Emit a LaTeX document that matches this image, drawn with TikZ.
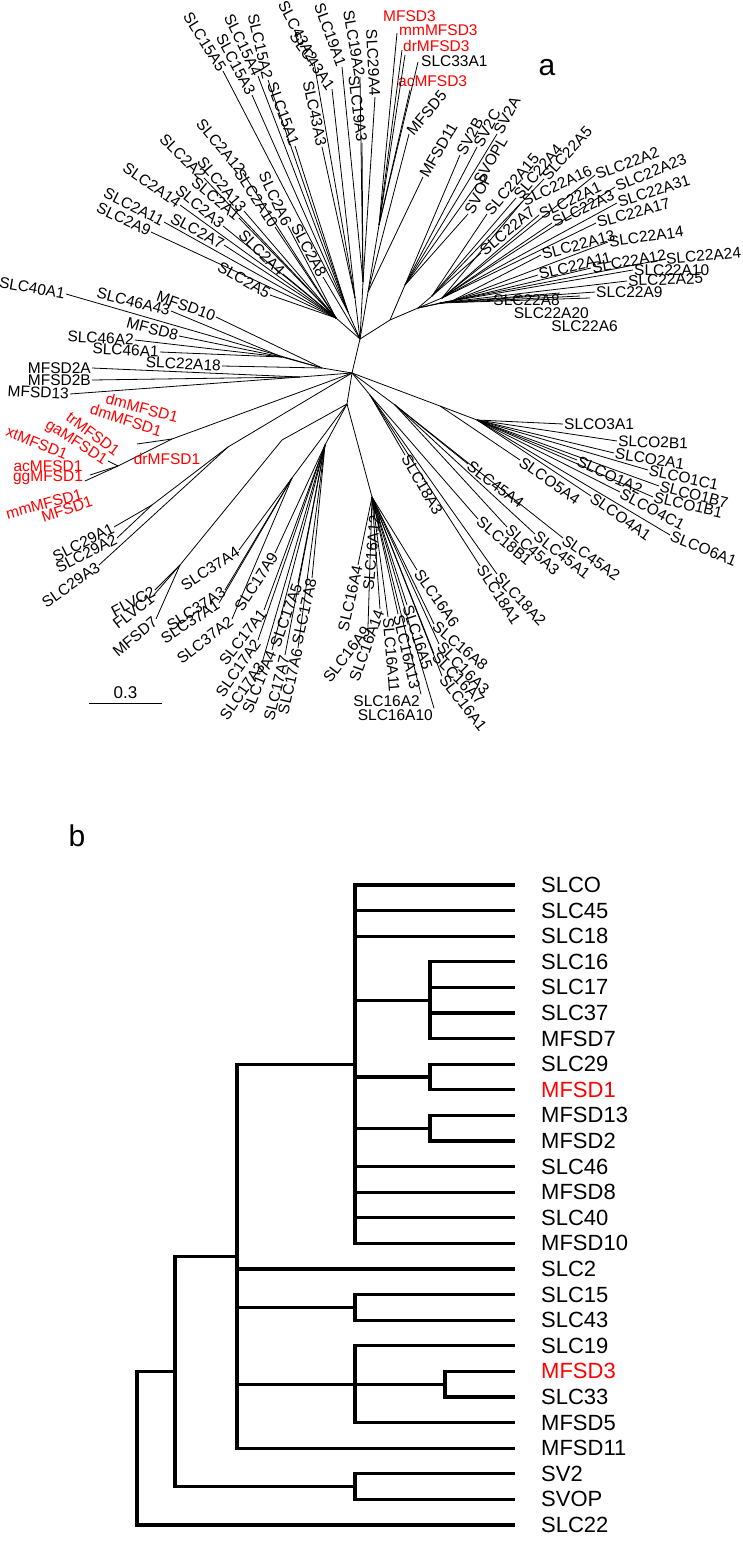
\documentclass[tikz,border=0pt]{standalone}
\usepackage{fontspec}
\setmainfont{Liberation Sans}
\usetikzlibrary{calc}

\tikzset{
  lf/.style={font=\fontsize{15.5}{16}\selectfont, inner sep=1pt},
  lfred/.style={lf, text=red},
  br/.style={line width=0.8pt},
  cl/.style={line width=3.2pt},
  blf/.style={font=\fontsize{22}{23}\selectfont, anchor=west, inner ysep=0pt, inner xsep=26pt},
  pnl/.style={font=\fontsize{30}{30}\selectfont},
}

% leaf whose label ends at the tip
\newcommand{\lfL}[5][lf]{%
  \node[#1, rotate=#4, anchor=east] (#5) at (#3) {#5};
  \draw[br] (#2) -- (#5.east);
}
% leaf whose label starts at the tip
\newcommand{\lfR}[5][lf]{%
  \node[#1, rotate=#4, anchor=west] (#5) at (#3) {#5};
  \draw[br] (#2) -- (#5.west);
}

\begin{document}
\begin{tikzpicture}[x=1pt, y=-1pt]
\path[use as bounding box, fill=white] (0,0) rectangle (742,1554);

% ---- a: unrooted tree ----
\coordinate (C0) at (352,373);
\coordinate (J1) at (360,339);
\coordinate (J3) at (347,404);
\coordinate (nS2) at (336,318);
\coordinate (nS15) at (348,312);
\coordinate (nS43) at (355,298);
\coordinate (nS19) at (363,282);
\coordinate (nMF) at (368,292);
\coordinate (nMF3) at (379,225);
\coordinate (nE1) at (390,320);
\coordinate (nSV) at (405,285);
\coordinate (nE2) at (418,308);
\coordinate (nS22a) at (432,296);
\coordinate (nS22b) at (442,298);
\coordinate (nS22c) at (452,301);
\coordinate (nS22d) at (440,303);
\coordinate (nW0) at (322,368);
\coordinate (nW1) at (282,357);
\coordinate (nW2) at (300,377);
\coordinate (nR0) at (172,439);
\coordinate (nR1) at (118,466);
\coordinate (nS29) at (228,447);
\coordinate (nS29a) at (152,505);
\coordinate (nLL) at (282,440);
\coordinate (nFL) at (180,565);
\coordinate (nS37) at (292,478);
\coordinate (nS17) at (325,445);
\coordinate (nS16) at (372,497);
\coordinate (nS18) at (370,395);
\coordinate (nS45) at (395,405);
\coordinate (nSLCOa) at (440,406);
\coordinate (nSLCO) at (477,420);

% inner branches
\draw[br] (J1) -- (C0) -- (J3);
\draw[br] (J1) -- (nS2);
\draw[br] (J1) -- (nS15);
\draw[br] (J1) -- (nS43);
\draw[br] (J1) -- (nS19);
\draw[br] (J1) -- (nMF) -- (nMF3);
\draw[br] (J1) -- (nE1) -- (nE2);
\draw[br] (nE1) -- (nSV);
\draw[br] (nE2) -- (nS22a);
\draw[br] (nE2) -- (nS22b);
\draw[br] (nE2) -- (nS22c);
\draw[br] (nE2) -- (nS22d);
\draw[br] (C0) -- (nW0) -- (nW1);
\draw[br] (C0) -- (nW2);
\draw[br] (C0) -- (nR0) -- (nR1);
\draw[br] (C0) -- (nS29) -- (nS29a);
\draw[br] (J3) -- (nLL) -- (nFL);
\draw[br] (J3) -- (nS37);
\draw[br] (J3) -- (nS17);
\draw[br] (J3) -- (nS16);
\draw[br] (C0) -- (nS18);
\draw[br] (C0) -- (nS45);
\draw[br] (C0) -- (nSLCOa) -- (nSLCO);

% SLC2
\foreach \tx/\ty/\ang/\lb in {151/232/-25/SLC2A9, 164/222/-27/SLC2A11, 180/205/-35/SLC2A14,
  204/178/-45/SLC2A2, 243/173/-50/SLC2A12, 244/211/-50/SLC2A13, 223/226/-40/SLC2A3,
  239/218/-40/SLC2A1, 275/227/-57/SLC2A10, 288/226/-65/SLC2A6, 224/245/-28/SLC2A7,
  283/274/-45/SLC2A4, 270/295/-30/SLC2A5}
  {\lfL{nS2}{\tx,\ty}{\ang}{\lb}}
\lfL{J1}{323,277}{-62}{SLC2A8}

% SLC15, SLC43, SLC19
\foreach \tx/\ty/\ang/\lb in {223/71/-58/SLC15A5, 258/76/-64/SLC15A4, 252/95/-62/SLC15A3,
  268/80/-77/SLC15A2, 295/146/-70/SLC15A1}
  {\lfL{nS15}{\tx,\ty}{\ang}{\lb}}
\foreach \tx/\ty/\ang/\lb in {314/62/-62/SLC43A2, 332/89/-55/SLC43A1, 322/147/-78/SLC43A3}
  {\lfL{nS43}{\tx,\ty}{\ang}{\lb}}
\foreach \tx/\ty/\ang/\lb in {342/67/-70/SLC19A1, 360/77/-80/SLC19A2, 362/143/-83/SLC19A3,
  375/97/-87/SLC29A4}
  {\lfL{nS19}{\tx,\ty}{\ang}{\lb}}

% MFSD3 and neighbours
\node[lfred, anchor=west] (MFSD3) at (382,16) {MFSD3};
\node[lfred, anchor=west] (mmMFSD3) at (398,30) {mmMFSD3};
\node[lfred, anchor=west] (drMFSD3) at (402,46) {drMFSD3};
\node[lf, anchor=west] (SLC33A1) at (420,61) {SLC33A1};
\node[lfred, anchor=west] (acMFSD3) at (397,81) {acMFSD3};
\coordinate (tMFSD3) at (397,33);
\coordinate (tmmMFSD3) at (402,50);
\coordinate (tdrMFSD3) at (405,55);
\coordinate (tSLC33A1) at (418,62);
\coordinate (tacMFSD3) at (410,90);
\foreach \t in {tMFSD3, tmmMFSD3, tdrMFSD3, tSLC33A1, tacMFSD3}
  \draw[br] (nMF3) -- (\t);
\lfR{nMF}{409,134}{50}{MFSD5}
\lfR{nMF}{423,177}{60}{MFSD11}

% SV2
\foreach \tx/\ty/\ang/\lb in {460/155/62/SV2B, 477/147/62/SV2C, 497/134/62/SV2A,
  477/184/60/SVOPL, 468/214/63/SVOP}
  {\lfR{nSV}{\tx,\ty}{\ang}{\lb}}

% SLC22
\foreach \tx/\ty/\ang/\lb in {487/214/50/SLC22A15, 516/198/50/SLC22A4, 544/179/48/SLC22A5,
  481/253/40/SLC22A7}
  {\lfR{nS22a}{\tx,\ty}{\ang}{\lb}}
\foreach \tx/\ty/\ang/\lb in {522/202/25/SLC22A16, 539/215/25/SLC22A1, 595/175/20/SLC22A2,
  552/223/25/SLC22A3, 615/187/22/SLC22A23, 617/203/18/SLC22A31, 596/223/15/SLC22A17}
  {\lfR{nS22b}{\tx,\ty}{\ang}{\lb}}
\foreach \tx/\ty/\ang/\lb in {541/255/15/SLC22A13, 608/242/8/SLC22A14, 538/275/14/SLC22A11,
  591/268/10/SLC22A12}
  {\lfR{nS22c}{\tx,\ty}{\ang}{\lb}}
\foreach \tx/\ty/\ang/\lb in {665/259/5/SLC22A24, 633/270/0/SLC22A10, 627/281/2/SLC22A25,
  595/292/0/SLC22A9}
  {\lfR{nS22d}{\tx,\ty}{\ang}{\lb}}
\node[lf, anchor=north east] (SLC22A8) at (561,293) {SLC22A8};
\node[lf, anchor=north east] (SLC22A20) at (590,306) {SLC22A20};
\node[lf, anchor=north east] (SLC22A6) at (619,319) {SLC22A6};
\coordinate (tSLC22A8) at (560,293);
\coordinate (tSLC22A20) at (580,296);
\coordinate (tSLC22A6) at (590,298);
\foreach \t in {tSLC22A8, tSLC22A20, tSLC22A6}
  \draw[br] (nS22d) -- (\t);

% SLC40, SLC46, MFSD2 ...
\foreach \tx/\ty/\ang/\lb in {66/294/-10/SLC40A1, 216/317/-20/MFSD10, 222/366/-3/SLC22A18}
  {\lfL{nW0}{\tx,\ty}{\ang}{\lb}}
\foreach \tx/\ty/\ang/\lb in {171/311/-14/SLC46A43, 179/336/-15/MFSD8, 135/340/-3/SLC46A2,
  160/352/-3/SLC46A1}
  {\lfL{nW1}{\tx,\ty}{\ang}{\lb}}
\foreach \tx/\ty/\ang/\lb in {92/368/0/MFSD2A, 92/380/0/MFSD2B, 70/394/-3/MFSD13}
  {\lfL{nW2}{\tx,\ty}{\ang}{\lb}}

% MFSD1 orthologues
\coordinate (tDM) at (137,444);
\coordinate (tTR) at (108,461);
\coordinate (tAC) at (90,475);
\coordinate (tGG) at (85,481);
\draw[br] (nR0) -- (tDM);
\draw[br] (nR1) -- (tTR);
\draw[br] (nR1) -- (tAC);
\draw[br] (nR1) -- (tGG);
\node[lfred, rotate=-15] (dmMFSD1a) at (142,408) {dmMFSD1};
\node[lfred, rotate=-18] (dmMFSD1b) at (126,420) {dmMFSD1};
\node[lfred, rotate=-37] (trMFSD1) at (93,434) {trMFSD1};
\node[lfred, rotate=-33] (gaMFSD1) at (76,443) {gaMFSD1};
\node[lfred, rotate=-22] (xtMFSD1) at (37,443) {xtMFSD1};
\node[lfred] (acMFSD1) at (48,466) {acMFSD1};
\node[lfred] (ggMFSD1) at (48,478) {ggMFSD1};
\node[lfred] (drMFSD1) at (167,459) {drMFSD1};
\node[lfred, rotate=15] (mmMFSD1) at (44,504) {mmMFSD1};
\node[lfred, rotate=18] (MFSD1) at (67,509) {MFSD1};

% SLC29
\foreach \tx/\ty/\ang/\lb in {114/527/27/SLC29A1, 117/538/27/SLC29A2}
  {\lfL{nS29a}{\tx,\ty}{\ang}{\lb}}
\lfL{nS29}{99,565}{35}{SLC29A3}

% FLVC, SLC37, SLC17
\foreach \tx/\ty/\ang/\lb in {155/590/28/FLVC2, 153/596/38/FLVC1, 156/619/40/MFSD7}
  {\lfL{nFL}{\tx,\ty}{\ang}{\lb}}
\foreach \tx/\ty/\ang/\lb in {239/550/33/SLC37A4, 225/590/33/SLC37A3, 219/603/33/SLC37A1,
  232/619/38/SLC37A2}
  {\lfL{nS37}{\tx,\ty}{\ang}{\lb}}
\foreach \tx/\ty/\ang/\lb in {275/553/57/SLC17A9, 264/610/52/SLC17A1, 258/640/55/SLC17A2,
  262/663/55/SLC17A3, 272/650/68/SLC17A4, 298/583/70/SLC17A5, 285/655/76/SLC17A7,
  298/648/77/SLC17A6, 312/578/77/SLC17A8}
  {\lfL{nS17}{\tx,\ty}{\ang}{\lb}}

% SLC16
\foreach \tx/\ty/\ang/\lb in {358/565/77/SLC16A4, 368/627/52/SLC16A9, 375/514/85/SLC16A12,
  380/609/70/SLC16A14}
  {\lfL{nS16}{\tx,\ty}{\ang}{\lb}}
\foreach \tx/\ty/\ang/\lb in {388/617/-85/SLC16A11, 398/614/-77/SLC16A13, 407/605/-72/SLC16A5,
  417/570/-55/SLC16A6, 434/624/-40/SLC16A8, 439/644/-45/SLC16A3, 434/654/-45/SLC16A7,
  442/676/-52/SLC16A1}
  {\lfR{nS16}{\tx,\ty}{\ang}{\lb}}
\node[lf, anchor=east] (SLC16A2) at (421,701) {SLC16A2};
\node[lf, anchor=east] (SLC16A10) at (434,715) {SLC16A10};
\draw[br] (nS16) -- (SLC16A2.north east);
\draw[br] (nS16) -- (SLC16A10.north east);

% SLC18, SLC45, SLCO
\foreach \tx/\ty/\ang/\lb in {405/455/-60/SLC18A3, 478/519/-40/SLC18B1, 497/574/-47/SLC18A2,
  480/566/-57/SLC18A1}
  {\lfR{nS18}{\tx,\ty}{\ang}{\lb}}
\foreach \tx/\ty/\ang/\lb in {468/464/-37/SLC45A4, 507/527/-42/SLC45A3, 535/534/-38/SLC45A1,
  563/538/-35/SLC45A2}
  {\lfR{nS45}{\tx,\ty}{\ang}{\lb}}
\lfR{nSLCOa}{520,460}{-35}{SLCO5A4}
\foreach \tx/\ty/\ang/\lb in {563/424/0/SLCO3A1, 617/441/-2/SLCO2B1, 614/453/-9/SLCO2A1,
  648/470/-12/SLCO1C1, 659/486/-14/SLCO1B7, 653/497/-13/SLCO1B1, 577/460/-25/SLCO1A2,
  620/492/-28/SLCO4C1, 670/535/-22/SLCO6A1, 591/496/-35/SLCO4A1}
  {\lfR{nSLCO}{\tx,\ty}{\ang}{\lb}}

% scale bar
\coordinate (sb0) at (89,703);
\coordinate (sb1) at (162,703);
\draw[br] (sb0) -- node[font=\fontsize{17}{18}\selectfont, above=3pt, inner sep=1pt] (sbl) {0.3} (sb1);

\node[pnl] (pa) at (547,68) {a};
\node[pnl] (pb) at (77,836) {b};

% ---- b: cladogram ----
\coordinate (P137) at (137,1448.2);
\coordinate (P175) at (175,1371.4);
\coordinate (P237) at (237,1256.2);
\coordinate (P355) at (355,1064.2);
\coordinate (P430a) at (430,1000.2);
\coordinate (P430b) at (430,1077);
\coordinate (P430c) at (430,1128.2);
\coordinate (P355s) at (355,1307.4);
\coordinate (P355m) at (355,1384.2);
\coordinate (P445) at (445,1384.2);
\coordinate (P355v) at (355,1486.6);

\draw[cl] (P137) |- (P175);
\draw[cl] (P175) |- (P237);
\draw[cl] (P175) |- (P355v);
\draw[cl] (P237) |- (P355);
\draw[cl] (P237) |- (P355s);
\draw[cl] (P237) |- (P355m);
\draw[cl] (P355m) |- (P445);
\draw[cl] (P355) |- (P430a);
\draw[cl] (P355) |- (P430b);
\draw[cl] (P355) |- (P430c);

\foreach \lb/\yy/\pa/\cc in {SLCO/885/P355/black, SLC45/910.6/P355/black, SLC18/936.2/P355/black,
  SLC16/961.8/P430a/black, SLC17/987.4/P430a/black, SLC37/1013/P430a/black,
  MFSD7/1038.6/P430a/black, SLC29/1064.2/P430b/black, MFSD1/1089.8/P430b/red,
  MFSD13/1115.4/P430c/black, MFSD2/1141/P430c/black, SLC46/1166.6/P355/black,
  MFSD8/1192.2/P355/black, SLC40/1217.8/P355/black, MFSD10/1243.4/P355/black,
  SLC2/1269/P237/black, SLC15/1294.6/P355s/black, SLC43/1320.2/P355s/black,
  SLC19/1345.8/P355m/black, MFSD3/1371.4/P445/red, SLC33/1397/P445/black,
  MFSD5/1422.6/P355m/black, MFSD11/1448.2/P237/black, SV2/1473.8/P355v/black,
  SVOP/1499.4/P355v/black, SLC22/1525/P137/black}
{
  \node[blf, text=\cc] (b\lb) at (515,\yy) {\lb};
  \draw[cl] (\pa) |- (b\lb.west);
}
\end{tikzpicture}
\end{document}
